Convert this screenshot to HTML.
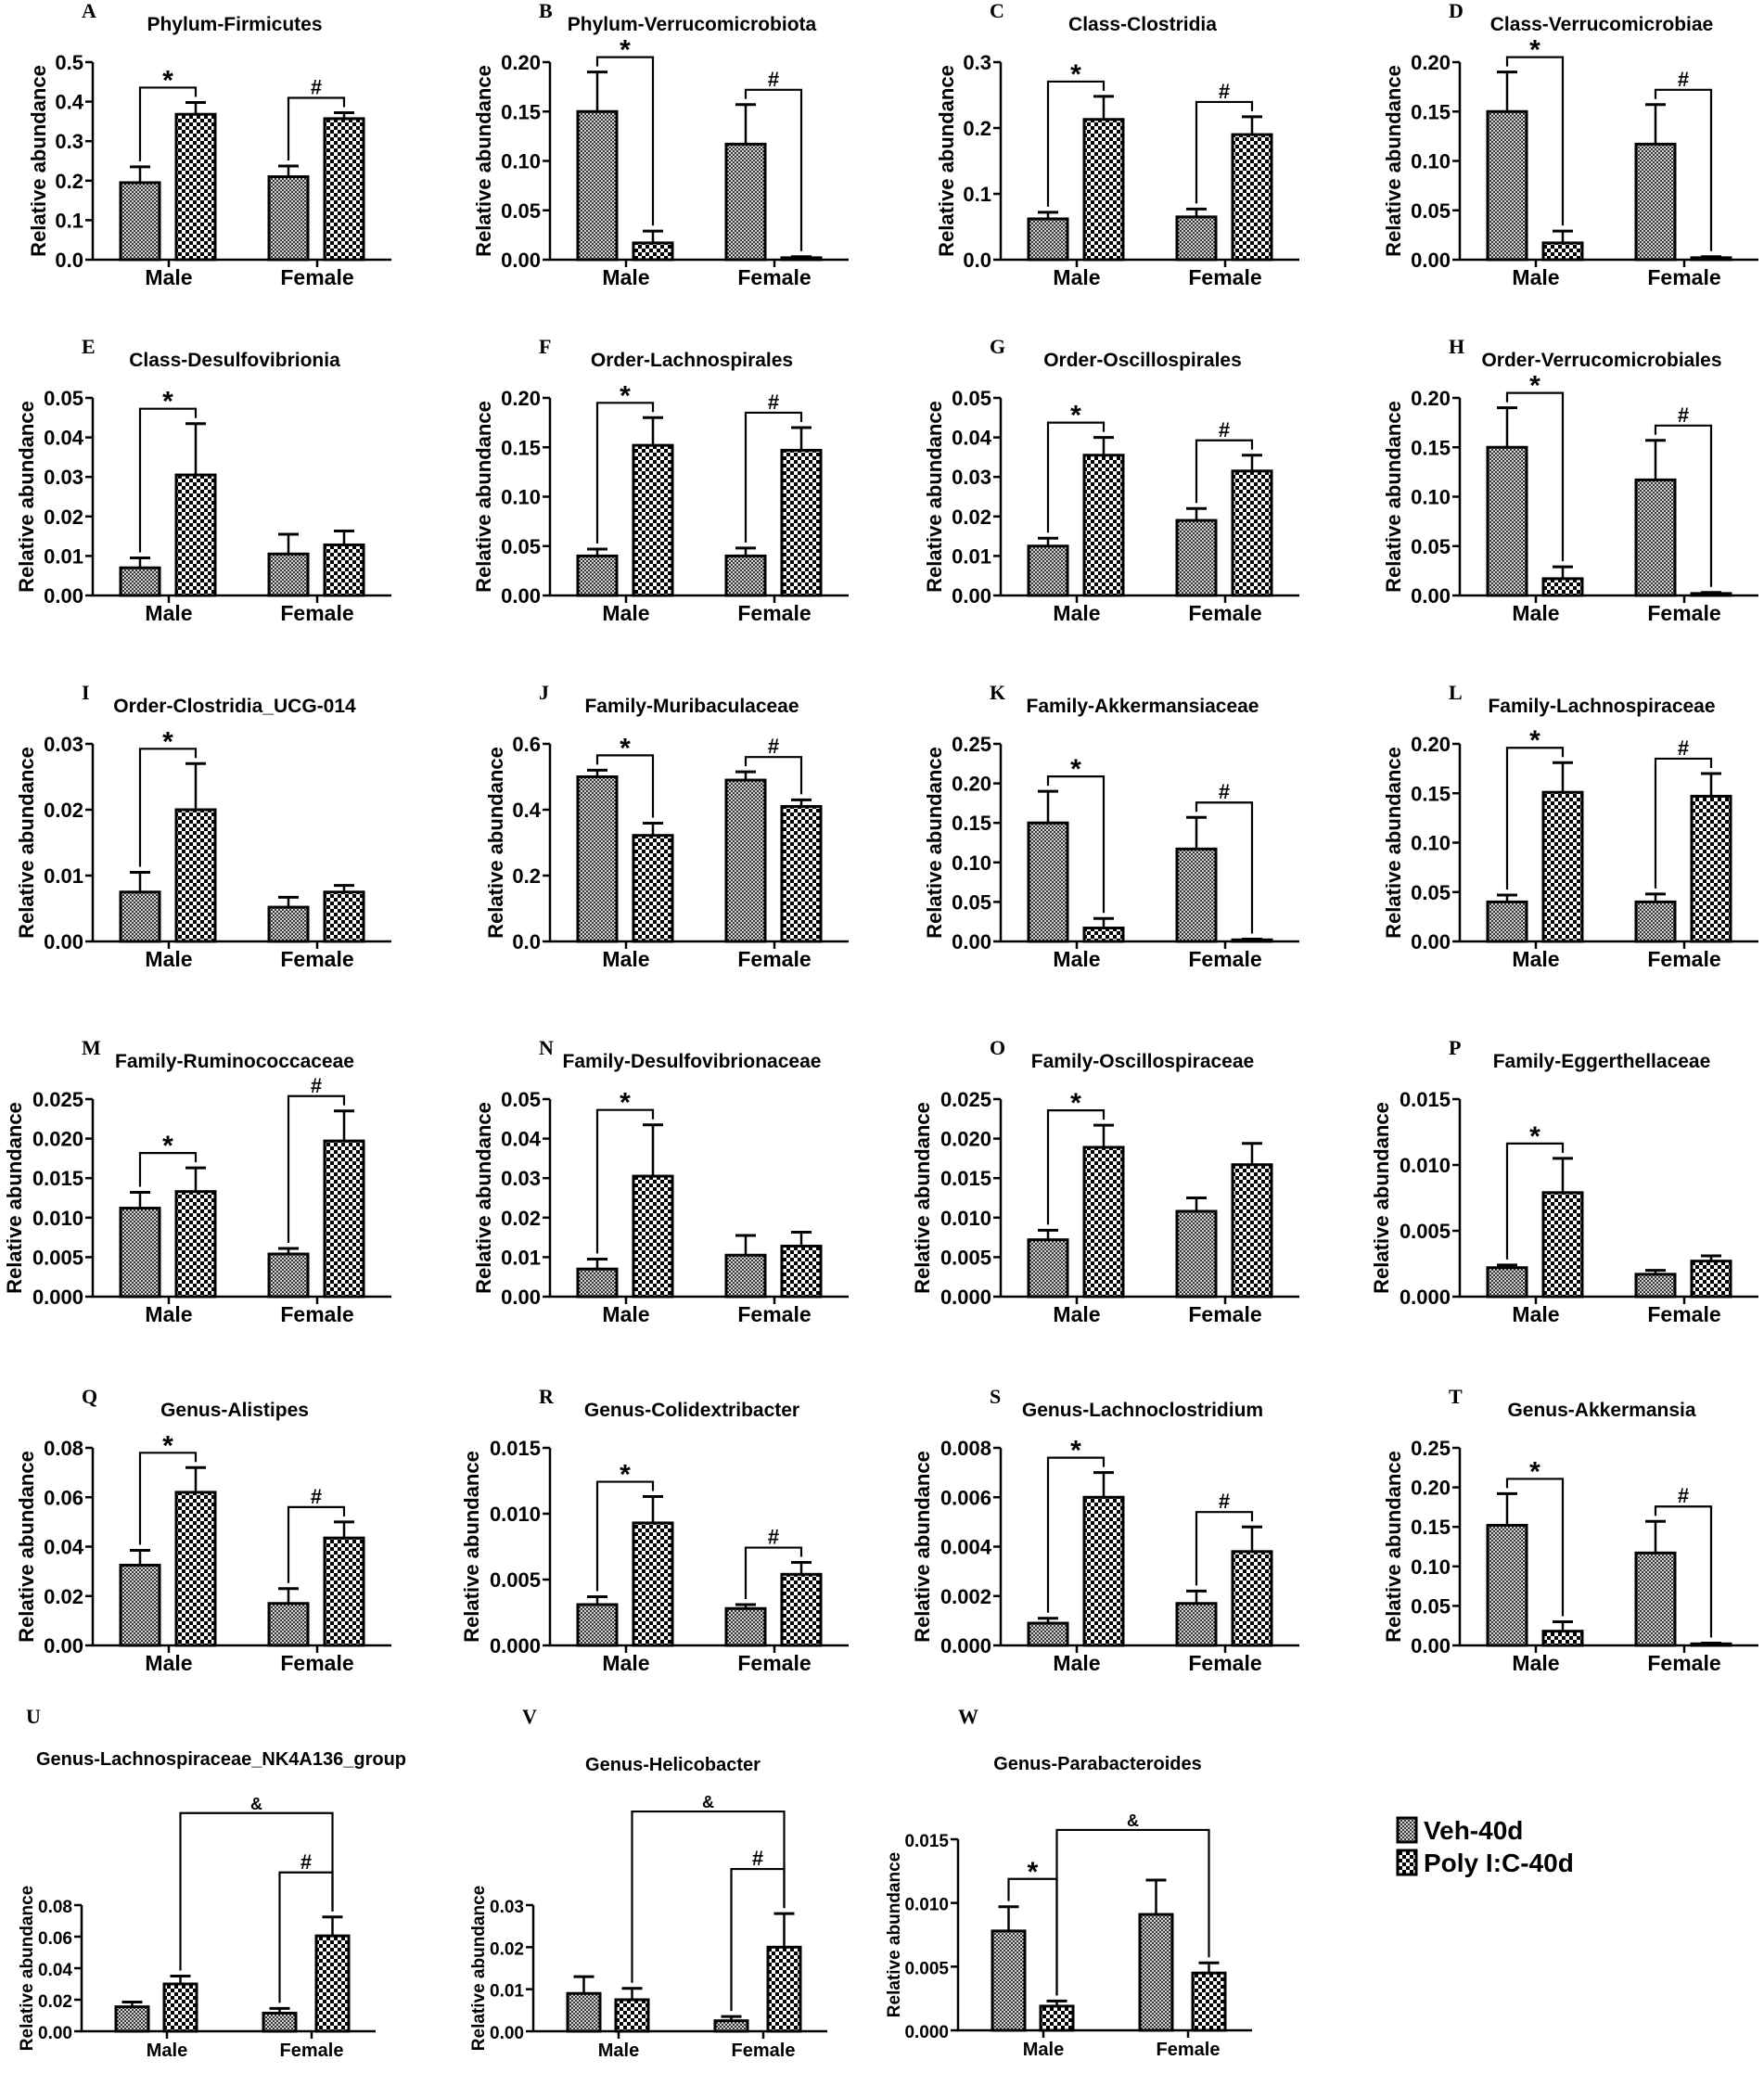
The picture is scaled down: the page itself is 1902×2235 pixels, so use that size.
<!DOCTYPE html>
<html><head><meta charset="utf-8"><style>
html,body{margin:0;padding:0;background:#fff}
svg{display:block}
text{font-family:"Liberation Sans",Arial,sans-serif;font-weight:bold;fill:#000}
.let{font-family:"Liberation Serif",serif}
</style></head><body>
<svg id="fig" width="1902" height="2235" viewBox="0 0 1902 2235" xmlns="http://www.w3.org/2000/svg">
<defs>
<pattern id="pVeh" width="4" height="4" patternUnits="userSpaceOnUse"><rect width="4" height="4" fill="#d8d8d8"/><rect width="2" height="2" fill="#333"/><rect x="2" y="2" width="2" height="2" fill="#333"/></pattern>
<pattern id="pPoly" width="8" height="8" patternUnits="userSpaceOnUse"><rect width="8" height="8" fill="#fff"/><rect width="4" height="4" fill="#000"/><rect x="4" y="4" width="4" height="4" fill="#000"/></pattern>
</defs>
</svg>
<script>
// ---- data ----
const letters = ["A","B","C","D","E","F","G","H","I","J","K","L","M","N","O","P","Q","R","S","T","U","V","W"];
const titles = ["Phylum-Firmicutes","Phylum-Verrucomicrobiota","Class-Clostridia","Class-Verrucomicrobiae","Class-Desulfovibrionia","Order-Lachnospirales","Order-Oscillospirales","Order-Verrucomicrobiales","Order-Clostridia_UCG-014","Family-Muribaculaceae","Family-Akkermansiaceae","Family-Lachnospiraceae","Family-Ruminococcaceae","Family-Desulfovibrionaceae","Family-Oscillospiraceae","Family-Eggerthellaceae","Genus-Alistipes","Genus-Colidextribacter","Genus-Lachnoclostridium","Genus-Akkermansia","Genus-Lachnospiraceae_NK4A136_group","Genus-Helicobacter","Genus-Parabacteroides"];
const yMax = [0.5,0.2,0.3,0.2,0.05,0.2,0.05,0.2,0.03,0.6,0.25,0.2,0.025,0.05,0.025,0.015,0.08,0.015,0.008,0.25,0.08,0.03,0.015];
const yStep = [0.1,0.05,0.1,0.05,0.01,0.05,0.01,0.05,0.01,0.2,0.05,0.05,0.005,0.01,0.005,0.005,0.02,0.005,0.002,0.05,0.02,0.01,0.005];
const decimals = [1,2,1,2,2,2,2,2,2,1,2,2,3,2,3,3,2,3,3,2,2,2,3];
const groups = ["Male","Female"];
const series = ["Veh-40d","Poly I:C-40d"];
// values: [veh male, poly male, veh female, poly female]
const values = [
 [0.195,0.368,0.21,0.357],[0.15,0.017,0.117,0.002],[0.062,0.213,0.065,0.19],[0.15,0.017,0.117,0.002],
 [0.007,0.0305,0.0105,0.0128],[0.04,0.152,0.04,0.147],[0.0125,0.0355,0.019,0.0315],[0.15,0.017,0.117,0.002],
 [0.0075,0.02,0.0052,0.0075],[0.5,0.322,0.49,0.41],[0.15,0.017,0.117,0.002],[0.04,0.151,0.04,0.147],
 [0.0112,0.0133,0.0054,0.0197],[0.007,0.0305,0.0105,0.0128],[0.0072,0.0189,0.0108,0.0167],[0.0022,0.0079,0.0017,0.0027],
 [0.0325,0.062,0.017,0.0435],[0.0031,0.0093,0.0028,0.0054],[0.0009,0.006,0.0017,0.0038],[0.152,0.018,0.117,0.002],
 [0.0155,0.03,0.0115,0.0605],[0.009,0.0075,0.0025,0.02],[0.0078,0.0019,0.0091,0.0045]];
const errors = [
 [0.04,0.03,0.027,0.015],[0.04,0.012,0.04,0.001],[0.01,0.035,0.012,0.027],[0.04,0.012,0.04,0.001],
 [0.0025,0.013,0.005,0.0035],[0.007,0.028,0.008,0.023],[0.002,0.0045,0.003,0.004],[0.04,0.012,0.04,0.001],
 [0.003,0.007,0.0015,0.001],[0.02,0.037,0.025,0.02],[0.04,0.012,0.04,0.001],[0.007,0.03,0.008,0.023],
 [0.002,0.003,0.0007,0.0038],[0.0025,0.013,0.005,0.0035],[0.0012,0.0028,0.0017,0.0027],[0.0002,0.0026,0.0003,0.0004],
 [0.006,0.01,0.006,0.0065],[0.0006,0.002,0.0003,0.0009],[0.0002,0.001,0.0005,0.001],[0.04,0.012,0.04,0.001],
 [0.003,0.005,0.003,0.012],[0.004,0.0027,0.001,0.008],[0.0019,0.0004,0.0027,0.0008]];
// annotations: [from bar, to bar, symbol]
const annots = [
 [[0,1,"*"],[2,3,"#"]],[[0,1,"*"],[2,3,"#"]],[[0,1,"*"],[2,3,"#"]],[[0,1,"*"],[2,3,"#"]],
 [[0,1,"*"]],[[0,1,"*"],[2,3,"#"]],[[0,1,"*"],[2,3,"#"]],[[0,1,"*"],[2,3,"#"]],
 [[0,1,"*"]],[[0,1,"*"],[2,3,"#"]],[[0,1,"*"],[2,3,"#"]],[[0,1,"*"],[2,3,"#"]],
 [[0,1,"*"],[2,3,"#"]],[[0,1,"*"]],[[0,1,"*"]],[[0,1,"*"]],
 [[0,1,"*"],[2,3,"#"]],[[0,1,"*"],[2,3,"#"]],[[0,1,"*"],[2,3,"#"]],[[0,1,"*"],[2,3,"#"]],
 [[2,3,"#"],[1,3,"&"]],[[2,3,"#"],[1,3,"&"]],[[0,1,"*"],[1,3,"&"]]];

// ---- layout ----
const colX = [100,593,1079,1574];
const rowZero = [280,642,1015,1398,1774];
const r6Letter = [[28,1858],[563,1858],[1033,1858]];
const svg = document.getElementById('fig');
const NS = 'http://www.w3.org/2000/svg';
function mk(tag, attrs, parent){const e=document.createElementNS(NS,tag);for(const k in attrs)e.setAttribute(k,attrs[k]);(parent||svg).appendChild(e);return e;}
function txt(s, attrs, parent){const e=mk('text',attrs,parent);e.textContent=s;return e;}

function geom(i){
  if(i<20){
    return {ox:colX[i%4], oy:rowZero[Math.floor(i/4)], h:213, len:322, bx:[30,90,190,250], bw:42, gx:[82,242], fs:22, off:[16,16,100]};
  }
  const r6 = [{ox:88,oy:2190,h:136,amp:112},{ox:575,oy:2190,h:136,amp:110},{ox:1033,oy:2189,h:206,amp:54}][i-20];
  return {ox:r6.ox, oy:r6.oy, h:r6.h, len:317, bx:[37,89,196,253], bw:35, gx:[92,248], fs:19, off:[30,48,r6.amp]};
}

for(let i=0;i<letters.length;i++){
  const g=geom(i);
  const grp=mk('g',{});
  
  
  const ys=v=>g.oy - v/yMax[i]*g.h;
  const lx = i<20 ? g.ox-12 : r6Letter[i-20][0];
  const ly = i<20 ? g.oy-g.h-48 : r6Letter[i-20][1];
  const lt=txt(letters[i],{x:lx,y:ly,'font-size':22,class:'let'},grp);
  
  
  let ty = i<20 ? g.oy-g.h-34 : [1903,1909,1908][i-20];
  const tt=txt(titles[i],{x:g.ox+g.len/2-8,y:ty,'font-size':i<20?21:20,'text-anchor':'middle'},grp);
  
  
  const ya=mk('line',{x1:g.ox,y1:g.oy,x2:g.ox,y2:g.oy-g.h,stroke:'#000','stroke-width':2.5},grp);
  
  
  const n=Math.round(yMax[i]/yStep[i]);
  for(let k=0;k<=n;k++){
    const v=k*yStep[i], y=ys(v);
    const tk=mk('line',{x1:g.ox-8,y1:y,x2:g.ox,y2:y,stroke:'#000','stroke-width':2.5},grp);
    
    
    const tl=txt(v.toFixed(decimals[i]),{x:g.ox-10,y:y+8,'font-size':g.fs,'text-anchor':'end'},grp);
    
    
  }
  const tOff = i<20 ? [0,58,71,84][decimals[i]] : [0,50,60,70][decimals[i]];
  const yt=txt('Relative abundance',{x:0,y:0,'font-size':g.fs,'text-anchor':'middle',transform:`translate(${g.ox-tOff+7},${g.oy-g.h/2}) rotate(-90)`},grp);
  
  
  const xa=mk('line',{x1:g.ox-1,y1:g.oy,x2:g.ox+g.len,y2:g.oy,stroke:'#000','stroke-width':2.5},grp);
  
  
  for(let k=0;k<2;k++){
    const cx=g.ox+g.gx[k];
    const xt=mk('line',{x1:cx,y1:g.oy,x2:cx,y2:g.oy+8,stroke:'#000','stroke-width':2.5},grp);
    
    
    const xl=txt(groups[k],{x:cx,y:g.oy+27,'font-size':g.fs+1,'text-anchor':'middle'},grp);
    
    
  }
  const tops=[];
  for(let b=0;b<4;b++){
    const x=g.ox+g.bx[b], v=values[i][b], e=errors[i][b];
    const yv=ys(v), ye=ys(v+e), cx=x+g.bw/2;
    tops.push(ye);
    const el=mk('line',{x1:cx,y1:yv,x2:cx,y2:ye,stroke:'#000','stroke-width':2.5},grp);
    
    
    const cap=mk('line',{x1:cx-11,y1:ye,x2:cx+11,y2:ye,stroke:'#000','stroke-width':3},grp);
    
    
    const r=mk('rect',{x:x,y:yv,width:g.bw,height:Math.max(g.oy-yv,1),fill:b%2===0?'url(#pVeh)':'url(#pPoly)',stroke:'#000','stroke-width':3},grp);
    
    
  }
  for(const a of annots[i]){
    const [p,q,s]=a;
    let m=Infinity; for(let k=p;k<=q;k++) m=Math.min(m,tops[k]);
    const off = s==='*'?g.off[0]:(s==='#'?g.off[1]:g.off[2]);
    const by=m-off;
    const x1=g.ox+g.bx[p]+g.bw/2, x2=g.ox+g.bx[q]+g.bw/2;
    const br=mk('polyline',{points:`${x1},${tops[p]-6} ${x1},${by} ${x2},${by} ${x2},${tops[q]-6}`,fill:'none',stroke:'#000','stroke-width':2.2},grp);
    
    
    const st=txt(s,{x:(x1+x2)/2,y:s==='*'?by+2:by-4,'font-size':s==='*'?30:(s==='#'?22:18),'text-anchor':'middle','font-weight':s==='*'?'bold':'normal'},grp);
    
    
  }
}
const lg=mk('g',{});


for(let k=0;k<2;k++){
  const y=1960+k*35;
  const bx=mk('rect',{x:1507,y:y,width:20,height:26,fill:k===0?'url(#pVeh)':'url(#pPoly)',stroke:'#000','stroke-width':3},lg);
  
  
  const t=txt(series[k],{x:1535,y:y+23,'font-size':28},lg);
  
  
}
</script>
</body></html>
